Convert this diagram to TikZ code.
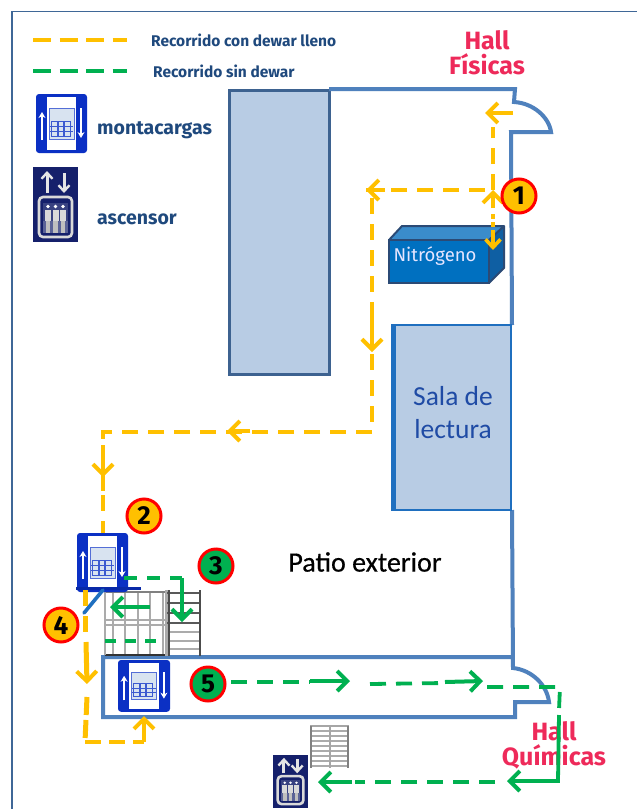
\documentclass[tikz,border=0pt]{standalone}
\usepackage{fontspec}
\setmainfont{Carlito}
\newfontfamily\legendfont{Fira Sans}
\newfontfamily\heavyfont[FakeBold=1.6]{Fira Sans Bold}
\newfontfamily\semifont[FakeBold=0.5]{Carlito}
\usetikzlibrary{arrows.meta}
\definecolor{wallc}{HTML}{4F81BD}
\definecolor{framec}{HTML}{3F6797}
\definecolor{roomfill}{HTML}{B8CCE4}
\definecolor{roomdark}{HTML}{3D6290}
\definecolor{salaedge}{HTML}{1F6FBF}
\definecolor{orangeR}{HTML}{FFC000}
\definecolor{greenR}{HTML}{00B050}
\definecolor{navytxt}{HTML}{1F497D}
\definecolor{hallred}{HTML}{EE2A5A}
\definecolor{liftblue}{HTML}{0B30C4}
\definecolor{liftnavy}{HTML}{15206B}
\definecolor{boxfront}{HTML}{0070C0}
\definecolor{boxtop}{HTML}{3A8CCB}
\definecolor{boxside}{HTML}{0F5FA3}
\definecolor{boxedge}{HTML}{2B4A75}
\definecolor{stepc}{HTML}{ABABAB}
\definecolor{salatext}{HTML}{1F4BA5}
\tikzset{
  x=1pt,y=-1pt,
  wall/.style={draw=wallc,line width=4pt,line join=miter},
  room/.style={fill=roomfill,draw=roomdark,line width=3pt},
  orangedash/.style={draw=orangeR,line width=3.8pt,dash pattern=on 16pt off 10pt},
  greendash/.style={draw=greenR,line width=3.8pt,dash pattern=on 16pt off 10pt},
  orangearrow/.style={draw=orangeR,line width=4pt,-{Straight Barb[length=10pt,width=20pt,line width=4pt]}},
  greenarrow/.style={draw=greenR,line width=4pt,-{Straight Barb[length=10pt,width=20pt,line width=4pt]}},
  badge/.style={circle,draw=red,line width=3pt,minimum size=34pt,inner sep=0pt,font=\legendfont\bfseries\fontsize{26}{26}\selectfont},
  legendtext/.style={text=navytxt,font=\legendfont\bfseries\fontsize{15.5}{17}\selectfont,inner sep=0pt,anchor=west},
  iconlabel/.style={text=navytxt,font=\legendfont\bfseries\fontsize{19.5}{21}\selectfont,inner sep=0pt,anchor=west},
  halltext/.style={text=hallred,align=center,inner sep=0pt,font=\legendfont\bfseries\fontsize{25}{25}\selectfont},
  montacargas/.pic={
    \fill[liftblue,rounded corners=3pt] (0,0) rectangle (51,59);
    \fill[white] (11,3) rectangle (40,56);
    \fill[roomfill!55] (13,14) rectangle (38,45);
    \draw[liftblue!70,line width=.8pt] (13,14) rectangle (38,45);
    \foreach \bx in {15,21,27}{\draw[liftblue!80,line width=.9pt] (\bx,27) rectangle ++(7,15);}
    \draw[liftblue!80,line width=.9pt] (14,32) -- (37,32) (14,37) -- (37,37);
    \draw[white,line width=2.6pt,-{Stealth[length=6pt,width=7pt]}] (6,46) -- (6,18);
    \draw[white,line width=2.6pt,-{Stealth[length=6pt,width=7pt]}] (45,14) -- (45,44);
  },
  ascensor/.pic={
    \fill[liftnavy] (0,0) rectangle (45,75);
    \draw[white!90!black,line width=3pt,-{Straight Barb[length=6pt,width=11pt,line width=2.4pt]}] (14,26) -- (14,4);
    \draw[white!90!black,line width=3pt,-{Straight Barb[length=6pt,width=11pt,line width=2.4pt]}] (31,6) -- (31,26);
    \draw[white!85!black,line width=2.6pt,rounded corners=4pt] (6,30) rectangle (39,70);
    \fill[liftnavy!85] (10,36) rectangle (35,66);
    \foreach \px in {15,22.5,30}{
      \fill[white!85!black] (\px-3,43) rectangle (\px+3,66);
      \fill[white] (\px,39.5) circle (1.8pt);
    }
    \fill[liftnavy!70] (10,54) rectangle (35,66);
    \foreach \px in {15,22.5,30}{\fill[white!75!black] (\px-2.4,54) rectangle (\px+2.4,66);}
  },
}
\begin{document}
\begin{tikzpicture}
\useasboundingbox (0,0) rectangle (637,809);
\fill[white] (0,0) rectangle (637,809);

% frame
\draw[framec,line width=1.8pt] (12,809) -- (12,11.5) -- (637,11.5);

% named plan corners
\coordinate (w1) at (329,89);
\coordinate (w2) at (515,89);
\coordinate (w3) at (514,102);
\coordinate (w4) at (551,132);
\coordinate (w5) at (511,132);
\coordinate (w6) at (513,668);
\coordinate (w7) at (549,702);
\coordinate (w8) at (515,702);
\coordinate (w9) at (515,717);
\coordinate (w10) at (103,717);
\coordinate (w11) at (103,657);
\coordinate (w12) at (513,657);

% block and rooms
\draw[room] (229,90) rectangle (329,374);
\draw[wall] (w1) -- (w2) -- (w3) .. controls (533,103) and (549,117) .. (w4) -- (w5) -- (512,325);
\draw[wall] (512,510) -- (w6) .. controls (532,670) and (547,685) .. (w7) -- (w8) -- (w9) -- (w10) -- (w11) -- (w12);
\draw[fill=roomfill,draw=salaedge,line width=2.4pt] (393,325) rectangle (511,510);
\draw[salaedge,line width=4.5pt] (393.5,324) -- (393.5,511);
\node[text=salatext,align=center,inner sep=0pt,font=\fontsize{27.5}{33}\selectfont] (sala) at (453,413) {Sala de\\lectura};

% nitrogen box
\fill[boxtop] (389,240) -- (402,226) -- (504,226) -- (489,240) -- cycle;
\fill[boxside] (489,240) -- (504,226) -- (504,268) -- (489,283) -- cycle;
\draw[boxedge,line width=2pt,line join=round] (389,240) -- (402,226) -- (504,226) -- (504,268) -- (489,283) (489,240) -- (504,226);
\draw[fill=boxfront,draw=boxedge,line width=2pt] (389,240) rectangle (489,283);
\node[text=white!90!blue,inner sep=0pt,font=\legendfont\fontsize{18.5}{19}\selectfont] (nitrogeno) at (435,256) {Nitrógeno};

% stairs
\begin{scope}
\foreach \sx in {113,125,138,150,163}{\draw[stepc,line width=2.6pt] (\sx,592) -- (\sx,655);}
\draw[gray,line width=1.4pt] (105,592) -- (165,592);
\draw[stepc,line width=2pt] (105,620) -- (165,620) (105,625) -- (165,625);
\draw[black!80,line width=2pt] (105,655) -- (165,655);
\draw[stepc,line width=2.6pt] (105,592) -- (105,655);
\draw[stepc,line width=3pt] (166,590) -- (166,656);
\foreach \sy in {593,603,613,623}{\draw[black!65,line width=1.2pt] (167,\sy) -- (200,\sy);}
\foreach \sy in {632,641,649}{\draw[stepc,line width=2pt] (167,\sy) -- (200,\sy);}
\draw[black!70,line width=2pt] (169,590) -- (169,656) (200,590) -- (200,656);
\end{scope}
\begin{scope}
\foreach \sy in {731,736,741,746,751,756,761,766}{\draw[stepc,line width=1.3pt] (310,\sy) -- (349,\sy);}
\draw[gray!70,line width=2.2pt] (310,726) -- (349,726) (330,726) -- (330,768);
\draw[gray,line width=1.6pt] (311,726) -- (311,768) (348,726) -- (348,768);
\end{scope}

% lifts
\pic at (36,94) {montacargas};
\pic at (77,533) {montacargas};
\pic[scale=1.02,yscale=.86] at (118,660) {montacargas};
\pic at (33,167) {ascensor};
\pic[scale=.78,xscale=1,yscale=.9] at (273,755) {ascensor};

\fill[liftblue!85!black] (76,586.5) rectangle (141,590);
\draw[salaedge,line width=3.6pt,line cap=round] (103,590) -- (84,613);

% legend
\coordinate (lo1) at (33,40); \coordinate (lo2) at (127,40);
\coordinate (lg1) at (33,71); \coordinate (lg2) at (127,71);
\draw[orangeR,line width=3.6pt,dash pattern=on 18pt off 8.5pt] (lo1) -- (lo2);
\draw[greenR,line width=3.6pt,dash pattern=on 18pt off 8.5pt] (lg1) -- (lg2);
\node[legendtext] (t1) at (151,40) {Recorrido con dewar lleno};
\node[legendtext] (t2) at (153,71) {Recorrido sin dewar};
\node[iconlabel] (t3) at (97,130) {montacargas};
\node[iconlabel] (t4) at (97,219) {ascensor};
\node[halltext] (hf) at (487,53) {Hall\\Físicas};
\node[font=\semifont\fontsize{28}{28}\selectfont,inner sep=0pt] (patio) at (365,562) {Patio exterior};
\node[halltext] (hq) at (554,745) {Hall\\Químicas};

% orange route
\coordinate (a1) at (493,190); \coordinate (a2) at (493,127);
\coordinate (a3) at (513,113); \coordinate (a4) at (485,113);
\coordinate (a5) at (493,214); \coordinate (a6) at (493,250);
\coordinate (b1) at (485,190); \coordinate (b2) at (366,190);
\coordinate (b3) at (372,198); \coordinate (b4) at (372,432);
\coordinate (c1) at (103,432); \coordinate (c2) at (103,495);
\coordinate (c3) at (103,533); \coordinate (d1) at (85,590);
\coordinate (d2) at (85,742); \coordinate (d3) at (144,742); \coordinate (d4) at (144,716);
\draw[orangedash] (a1) -- (a2);
\draw[orangearrow] (a3) -- (a4);
\draw[orangearrow] (493,208) -- (a1);
\draw[orangedash,dash pattern=on 5pt off 3pt] (a5) -- (493,240);
\draw[orangeR,line width=3.6pt,-{Straight Barb[length=8pt,width=15pt,line width=3.6pt]}] (493,232) -- (a6);
\draw[orangedash] (b1) -- (b2);
\draw[orangearrow] (385,190) -- (b2);
\draw[orangedash] (b3) -- (b4) -- (c1) -- (c2);
\draw[orangearrow] (372,310) -- (372,352);
\draw[orangearrow] (250,431) -- (227,431);
\draw[orangearrow] (103,445) -- (103,477);
\draw[orangedash] (103,495) -- (c3);
\draw[orangedash,line width=5pt] (d1) -- (85,632);
\draw[orangearrow,line width=5pt] (86,642) -- (87,684);
\draw[orangedash,line width=5pt,dash pattern=on 18pt off 5pt] (87,697) -- (d2);
\draw[orangedash,dash pattern=on 16pt off 8pt] (85,742) -- (d3);
\draw[orangearrow] (d3) -- (d4);

% green route
\coordinate (g1) at (124,578); \coordinate (g2) at (182,578); \coordinate (g3) at (182,622);
\coordinate (g4) at (150,607); \coordinate (g5) at (110,607);
\coordinate (g6) at (105,641); \coordinate (g7) at (165,641);
\coordinate (g8) at (231,682); \coordinate (g9) at (350,681);
\coordinate (g10) at (370,684); \coordinate (g11) at (483,681);
\coordinate (g12) at (487,687); \coordinate (g13) at (560,687);
\coordinate (g14) at (558,781); \coordinate (g15) at (318,782);
\draw[greendash,dash pattern=on 13pt off 10pt] (g1) -- (g2);
\draw[greenarrow] (g2) -- (g3);
\draw[greenarrow] (g4) -- (g5);
\draw[greendash,dash pattern=on 11pt off 9pt] (g6) -- (g7);
\draw[greendash] (g8) -- (310,682);
\draw[greenarrow] (310,681) -- (g9);
\draw[greendash] (g10) -- (445,683);
\draw[greenarrow] (445,682) -- (g11);
\draw[greendash] (g12) -- (g13) -- (559,710);
\draw[draw=greenR,line width=3.8pt] (559,715) -- (g14) -- (520,781);
\draw[greenarrow] (530,781) -- (507,781);
\draw[greendash,dash pattern=on 16pt off 10pt] (495,782) -- (355,782);
\draw[greenarrow] (352,782) -- (g15);

% badges
\node[badge,fill=orangeR] (n1) at (519,196) {1};
\node[badge,fill=orangeR] (n2) at (144,516) {2};
\node[badge,fill=greenR] (n3) at (216,566) {3};
\node[badge,fill=orangeR] (n4) at (61,625) {4};
\node[badge,fill=greenR] (n5) at (208,684) {5};
\end{tikzpicture}
\end{document}
